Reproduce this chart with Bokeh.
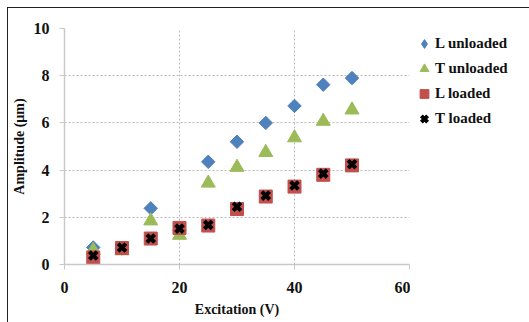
from bokeh.plotting import figure
from bokeh.layouts import row
from bokeh.models import Range1d, Legend, LegendItem, FixedTicker
from bokeh.embed import file_html
from bokeh.resources import INLINE

excitation = [5, 10, 15, 20, 25, 30, 35, 40, 45, 50]
l_unloaded = [0.72, 0.68, 2.38, 1.45, 4.35, 5.2, 6.0, 6.72, 7.62, 7.9]
t_unloaded = [0.6, 0.58, 1.85, 1.24, 3.45, 4.12, 4.75, 5.37, 6.07, 6.55]
l_loaded = [0.3, 0.7, 1.1, 1.55, 1.65, 2.35, 2.88, 3.3, 3.8, 4.2]
t_loaded = [0.38, 0.72, 1.1, 1.52, 1.68, 2.45, 2.92, 3.35, 3.85, 4.25]
series_names = ["L unloaded", "T unloaded", "L loaded", "T loaded"]
x_ticks = [0, 20, 40, 60]
y_ticks = [0, 2, 4, 6, 8, 10]

FONT = "Liberation Serif"

p = figure(width=402, height=314, output_backend="svg", toolbar_location=None,
           x_range=Range1d(0, 60), y_range=Range1d(0, 10),
           min_border_left=55, min_border_right=1, min_border_top=20, min_border_bottom=58)
p.outline_line_color = None

for ax in (p.xaxis[0], p.yaxis[0]):
    ax.axis_line_color = "#c8c8c8"
    ax.axis_line_width = 1.5
    ax.major_tick_line_color = "#c8c8c8"
    ax.major_tick_out = 5
    ax.major_tick_in = 0
    ax.minor_tick_line_color = None
    ax.major_label_text_font = FONT
    ax.major_label_text_font_style = "bold"
    ax.major_label_text_font_size = "16px"
    ax.major_label_text_color = "#111"
    ax.axis_label_text_font = FONT
    ax.axis_label_text_font_style = "bold"
    ax.axis_label_text_font_size = "14px"
    ax.axis_label_text_color = "#111"

p.xaxis.ticker = FixedTicker(ticks=x_ticks)
p.yaxis.ticker = FixedTicker(ticks=y_ticks)
p.xaxis.axis_label = "Excitation (V)"
p.yaxis.axis_label = "Amplitude (µm)"
p.xaxis.major_label_standoff = 12
p.yaxis.major_label_standoff = 10
p.xaxis.axis_label_standoff = 6
p.yaxis.axis_label_standoff = 4

p.xgrid.grid_line_color = "#bbbbbb"
p.ygrid.grid_line_color = "#bbbbbb"
p.xgrid.grid_line_dash = "2 2"
p.ygrid.grid_line_dash = "2 2"
p.xgrid.ticker = FixedTicker(ticks=x_ticks)
p.ygrid.ticker = FixedTicker(ticks=y_ticks)

series = [l_unloaded, t_unloaded, l_loaded, t_loaded]
styles = [
    dict(marker="square", size=9.5, angle=0.7854, color="#4F81BD"),
    dict(marker="triangle", size=14, color="#9BBB59"),
    dict(marker="square", size=13, color="#C0504D"),
    dict(marker="x", size=11, line_color="black", line_width=4),
]
for ys, st in zip(series, styles):
    p.scatter(excitation, ys, **st)

legend_styles = [dict(marker="diamond", color="#4F81BD")] + styles[1:]

# legend panel (its own figure; the series lie outside its ranges, only the legend shows)
lg = figure(width=119, height=314, output_backend="svg", toolbar_location=None,
            x_range=Range1d(-1, 0), y_range=Range1d(-1, 0),
            min_border_left=0, min_border_right=0, min_border_top=4, min_border_bottom=0)
lg.axis.visible = False
lg.grid.visible = False
lg.outline_line_color = None
items = []
for name, ys, st in zip(series_names, series, legend_styles):
    r = lg.scatter(excitation, ys, **st)
    items.append(LegendItem(label=name, renderers=[r]))

legend = Legend(items=items, location="top_left")
legend.label_text_font = FONT
legend.label_text_font_style = "bold"
legend.label_text_font_size = "15px"
legend.label_text_color = "#111"
legend.border_line_color = None
legend.background_fill_alpha = 0
legend.margin = 3
legend.padding = 0
legend.spacing = 0
legend.glyph_width = 22
legend.glyph_height = 25
legend.label_standoff = 0
legend.label_height = 25
lg.add_layout(legend)

layout = row(p, lg)
layout.margin = (7, 0, 0, 7)
layout.styles = {"border-top": "1px solid #222", "border-left": "1px solid #222"}

open("out.html", "w").write(file_html(layout, INLINE))
